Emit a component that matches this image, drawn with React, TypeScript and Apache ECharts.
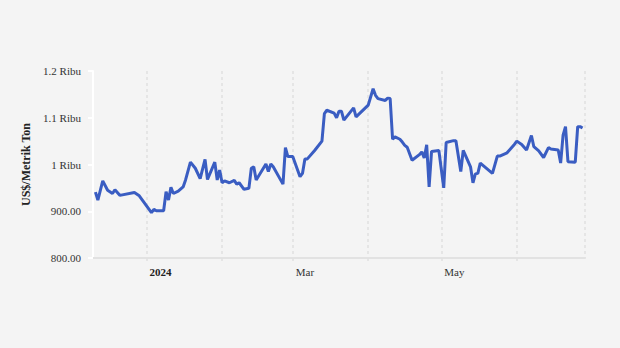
import React, { useEffect, useRef } from "react";
import * as echarts from "echarts";

const dates: string[] = [
  "2023-12-11", "2023-12-12", "2023-12-14", "2023-12-16", "2023-12-18", "2023-12-19", "2023-12-21", "2023-12-27", "2023-12-29",
  "2024-01-03", "2024-01-04", "2024-01-05", "2024-01-08", "2024-01-09", "2024-01-10", "2024-01-11", "2024-01-12", "2024-01-14",
  "2024-01-16", "2024-01-17", "2024-01-19", "2024-01-21", "2024-01-23", "2024-01-25", "2024-01-26", "2024-01-29", "2024-01-30",
  "2024-01-31", "2024-02-01", "2024-02-02", "2024-02-04", "2024-02-06", "2024-02-07", "2024-02-08", "2024-02-10", "2024-02-12",
  "2024-02-13", "2024-02-14", "2024-02-15", "2024-02-19", "2024-02-20", "2024-02-21", "2024-02-22", "2024-02-26", "2024-02-27",
  "2024-02-28", "2024-03-01", "2024-03-04", "2024-03-05", "2024-03-06", "2024-03-07", "2024-03-10", "2024-03-13", "2024-03-14",
  "2024-03-15", "2024-03-18", "2024-03-19", "2024-03-20", "2024-03-21", "2024-03-22", "2024-03-26", "2024-03-27", "2024-04-01",
  "2024-04-03", "2024-04-04", "2024-04-05", "2024-04-08", "2024-04-09", "2024-04-10", "2024-04-11", "2024-04-12", "2024-04-14",
  "2024-04-15", "2024-04-16", "2024-04-17", "2024-04-19", "2024-04-22", "2024-04-23", "2024-04-24", "2024-04-25", "2024-04-26",
  "2024-04-27", "2024-04-30", "2024-05-02", "2024-05-03", "2024-05-06", "2024-05-07", "2024-05-09", "2024-05-10", "2024-05-13",
  "2024-05-14", "2024-05-15", "2024-05-16", "2024-05-17", "2024-05-22", "2024-05-24", "2024-05-25", "2024-05-28", "2024-05-30",
  "2024-05-31", "2024-06-01", "2024-06-03", "2024-06-05", "2024-06-07", "2024-06-08", "2024-06-10", "2024-06-12", "2024-06-14",
  "2024-06-15", "2024-06-18", "2024-06-19", "2024-06-20", "2024-06-21", "2024-06-22", "2024-06-25", "2024-06-26", "2024-06-27",
  "2024-06-28",
];

const prices: number[] = [
  941, 924, 965, 945, 938, 946, 934, 940, 933,
  897, 904, 901, 901, 942, 924, 951, 938, 943,
  952, 967, 1005, 992, 970, 1011, 968, 1005, 967,
  988, 961, 965, 961, 966, 958, 961, 947, 949,
  992, 995, 967, 1001, 985, 1001, 995, 958, 1036,
  1017, 1017, 974, 981, 1012, 1012, 1030, 1050, 1109,
  1116, 1110, 1100, 1114, 1114, 1095, 1121, 1102, 1127,
  1162, 1148, 1141, 1137, 1142, 1141, 1054, 1059, 1054,
  1048, 1041, 1037, 1009, 1021, 1027, 1014, 1042, 952,
  1028, 1030, 950, 1047, 1051, 1051, 985, 1030, 995,
  961, 980, 981, 1003, 981, 1018, 1018, 1025, 1037,
  1043, 1050, 1043, 1031, 1062, 1038, 1029, 1015, 1036,
  1033, 1031, 1003, 1063, 1081, 1006, 1005, 1081, 1081,
  1078,
];

const yAxisName = "US$/Metrik Ton";
const labeledMonths: Record<number, string> = { 0: "{y|2024}", 2: "Mar", 4: "May" };

const FONT = "'Liberation Serif', 'Times New Roman', serif";

export default function App() {
  const ref = useRef<HTMLDivElement>(null);

  useEffect(() => {
    if (!ref.current) return;
    const chart = echarts.init(ref.current, undefined, { renderer: "svg" });
    const data = dates.map((d, i) => [d, prices[i]]);
    chart.setOption({
      animation: false,
      backgroundColor: "#f4f4f4",
      grid: { left: 93, right: 35, top: 71, bottom: 90 },
      xAxis: {
        type: "time",
        min: "2023-12-10",
        max: "2024-06-29",
        splitNumber: 7,
        axisLine: { show: true, lineStyle: { color: "#e2e2e2", width: 2 } },
        axisTick: { show: true, length: 4, lineStyle: { color: "#e0e0e0", type: [3, 3], width: 1.5 } },
        splitLine: { show: true, lineStyle: { color: "#e0e0e0", type: [3, 3], width: 1.5 } },
        axisLabel: {
          align: "left",
          margin: 8,
          fontFamily: FONT,
          fontSize: 11,
          color: "#333",
          padding: [0, 0, 0, 3],
          formatter: (value: number) => {
            const dt = new Date(value);
            if (dt.getDate() !== 1) return "";
            const m = dt.getMonth();
            return labeledMonths[m] ?? "";
          },
          rich: { y: { fontWeight: "bold", fontFamily: FONT, fontSize: 11, color: "#222" } },
        },
      },
      yAxis: {
        type: "value",
        min: 800,
        max: 1200,
        interval: 100,
        name: yAxisName,
        nameLocation: "middle",
        nameRotate: 90,
        nameGap: 60,
        nameTextStyle: { fontFamily: FONT, fontSize: 12, fontWeight: "bold", color: "#222" },
        axisLine: { show: true, lineStyle: { color: "#ffffff", width: 2 } },
        axisTick: { show: true, length: 5, lineStyle: { color: "#ffffff", width: 2 } },
        splitLine: { show: false },
        axisLabel: {
          margin: 12,
          fontFamily: FONT,
          fontSize: 11,
          color: "#333",
          formatter: (v: number) => (v >= 1000 ? `${parseFloat((v / 1000).toFixed(1))} Ribu` : v.toFixed(2)),
        },
      },
      series: [
        {
          type: "line",
          data,
          showSymbol: false,
          symbol: "none",
          lineStyle: { color: "#3a5dc2", width: 3 },
          itemStyle: { color: "#3a5dc2" },
        },
      ],
    });
    return () => chart.dispose();
  }, []);

  return <div ref={ref} style={{ width: 620, height: 348, position: "fixed", left: 0, top: 0 }} />;
}
